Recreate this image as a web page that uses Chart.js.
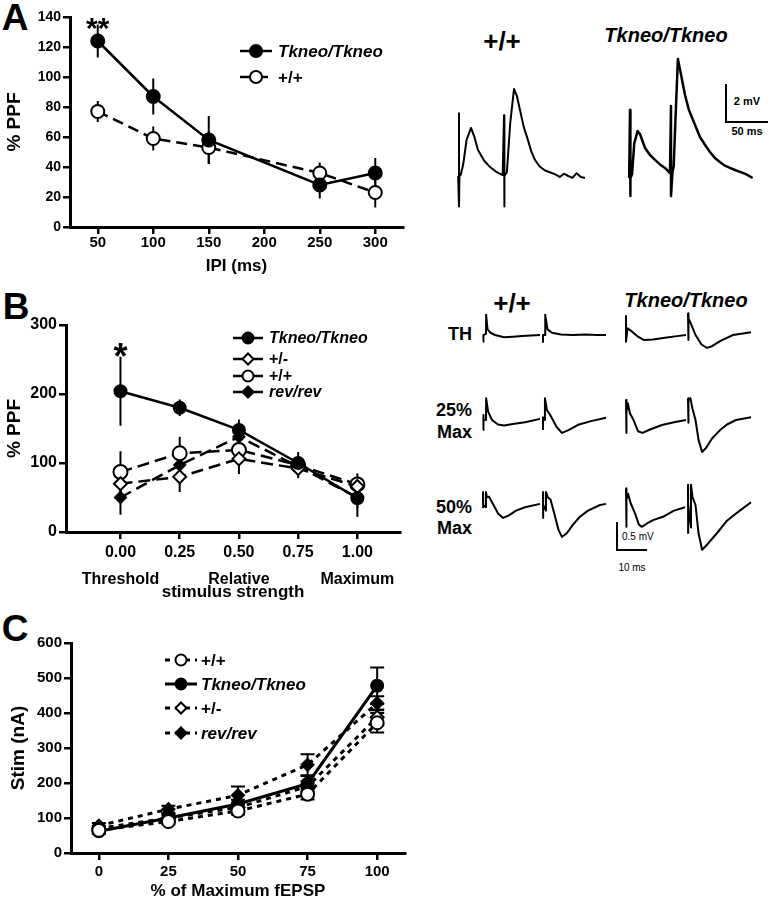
<!DOCTYPE html>
<html>
<head>
<meta charset="utf-8">
<script src="https://cdn.jsdelivr.net/npm/chart.js@4.4.1/dist/chart.umd.min.js"></script>
<style>
  html, body { margin: 0; padding: 0; background: #fff; }
  #page { position: relative; width: 769px; height: 900px; background: #fff; overflow: hidden; }
  canvas { position: absolute; }
  .lbl { position: absolute; font-family: 'Liberation Sans', Arial, sans-serif; font-weight: bold; line-height: 1; white-space: nowrap; color: #000; transform: translate(-50%, -50%); }
  .r { transform: translate(-100%, -50%); }
  .l { transform: translate(0, -50%); }
  .it { font-style: italic; }
  .nb { font-weight: normal; }
  .bar { position: absolute; border-left: 2px solid #000; border-bottom: 2px solid #000; box-sizing: border-box; }
</style>
</head>
<body>
<div id="page">
  <div class="lbl" style="left:15px;top:17px;font-size:37px;">A</div>
  <div class="lbl" style="left:16px;top:306px;font-size:37px;">B</div>
  <div class="lbl" style="left:15px;top:628px;font-size:37px;">C</div>

  <div class="lbl" style="left:502px;top:41px;font-size:26px;">+/+</div>
  <div class="lbl it" style="left:666px;top:35px;font-size:20px;">Tkneo/Tkneo</div>
  <div class="bar" style="left:725px;top:84px;width:43px;height:39px;"></div>
  <div class="lbl" style="left:747px;top:101px;font-size:11px;">2 mV</div>
  <div class="lbl" style="left:747px;top:131px;font-size:11px;">50 ms</div>

  <div class="lbl" style="left:512px;top:303px;font-size:26px;">+/+</div>
  <div class="lbl it" style="left:686px;top:300px;font-size:20px;">Tkneo/Tkneo</div>
  <div class="lbl r" style="left:472px;top:334px;font-size:18px;">TH</div>
  <div class="lbl r" style="left:472px;top:410px;font-size:18px;">25%</div>
  <div class="lbl r" style="left:472px;top:432px;font-size:18px;">Max</div>
  <div class="lbl r" style="left:472px;top:507px;font-size:18px;">50%</div>
  <div class="lbl r" style="left:472px;top:528px;font-size:18px;">Max</div>
  <div class="bar" style="left:616px;top:522px;width:31px;height:29px;"></div>
  <div class="lbl l nb" style="left:622px;top:537px;font-size:10px;">0.5 mV</div>
  <div class="lbl nb" style="left:632px;top:568px;font-size:10px;">10 ms</div>
</div>
<script>
// ---------------- DATA ----------------
// Panel A: paired-pulse facilitation vs inter-pulse interval
const ipiA = [50, 100, 150, 250, 300];
const ppfKoA = [124, 87, 58, 28, 36];
const ppfKoAErr = [11, 12, 16, 9, 10];
const ppfWtA = [77, 59, 53, 36, 23];
const ppfWtAErr = [7, 8, 11, 7, 10];
const ticksAx = [50, 100, 150, 200, 250, 300];
const ticksAy = [0, 20, 40, 60, 80, 100, 120, 140];

// Panel B: PPF vs relative stimulus strength
const stimB = [0, 0.25, 0.5, 0.75, 1.0];
const ppfKoB = [204, 180, 148, 100, 49];
const ppfKoBErr = [50, 12, 15, 16, 27];
const ppfHetB = [70, 80, 106, 92, 66];
const ppfHetBErr = [12, 22, 22, 14, 12];
const ppfWtB = [87, 114, 119, 97, 69];
const ppfWtBErr = [30, 24, 15, 14, 16];
const ppfRevB = [50, 97, 138, 95, 50];
const ppfRevBErr = [25, 10, 12, 12, 15];
const ticksBx = [0, 0.25, 0.5, 0.75, 1.0];
const tickLabelsBx = ['0.00', '0.25', '0.50', '0.75', '1.00'];
const subLabelsBx = ['Threshold', '', 'Relative', '', 'Maximum'];
const ticksBy = [0, 100, 200, 300];

// Panel C: stimulus current vs % of maximum fEPSP
const fepspC = [0, 25, 50, 75, 100];
const stimWtC = [65, 90, 120, 168, 372];
const stimWtCErr = [6, 8, 10, 15, 28];
const stimKoC = [62, 100, 140, 198, 478];
const stimKoCErr = [8, 10, 12, 22, 52];
const stimHetC = [70, 100, 130, 190, 388];
const stimHetCErr = [6, 10, 12, 15, 22];
const stimRevC = [78, 125, 165, 252, 428];
const stimRevCErr = [8, 10, 25, 30, 20];
const ticksCx = [0, 25, 50, 75, 100];
const ticksCy = [0, 100, 200, 300, 400, 500, 600];

// Panel A traces (time ms, voltage mV)
const trAwtT = [-1, 0, 0, 0.5, 2, 5, 9, 14.3, 18, 22.6, 30, 37, 45, 52, 53.6, 53.6, 54.5, 57, 61, 65.5, 69, 72.6, 77, 82, 86, 90.5, 96, 102, 108, 114, 120, 125, 130, 135, 140, 145, 150];
const trAwtV = [0, 3.3, -1.6, 0, 0.05, 0.6, 1.9, 2.53, 2.1, 1.37, 0.8, 0.47, 0.2, 0.05, 3.2, -1.6, 0, 0.2, 2.8, 4.58, 4.2, 3.47, 2.6, 1.9, 1.3, 0.84, 0.5, 0.3, 0.2, 0.1, -0.05, 0.12, 0.0, -0.1, 0.15, -0.05, -0.1];
const trAkoT = [-1, 0, 0, 1, 2.5, 5, 9, 12, 17.9, 24, 29.8, 36, 41.7, 47.6, 48.8, 48.8, 50.5, 52, 54.5, 57, 60, 65.5, 70, 75, 83.3, 90, 95.2, 101, 107, 113, 119, 125, 131, 138, 146];
const trAkoV = [0, 3.58, -0.95, 0, 0.2, 1.8, 2.47, 2.3, 1.58, 1.2, 0.95, 0.7, 0.53, 0.26, 3.79, -0.95, 0.3, 0.6, 3.5, 6.26, 5.6, 4.37, 3.6, 3.05, 2.16, 1.7, 1.37, 1.05, 0.84, 0.65, 0.53, 0.42, 0.32, 0.2, 0];

// Panel B traces (time ms, voltage mV)
const trThWt1T = [0, 0, 0.3, 1, 1.05, 1.5, 2.5, 4, 7, 10, 13, 16, 19];
const trThWt1V = [-0.12, 0, 0, 0.02, 0.36, 0.1, 0.04, 0, -0.04, -0.03, -0.02, -0.01, 0];
const trThWt2T = [0, 0, 0.7, 0.75, 1.5, 3, 6, 10, 14, 18, 21];
const trThWt2V = [-0.14, 0, 0, 0.36, 0.1, 0.04, 0.01, 0, 0.01, 0, 0];
const trThKo1T = [0, 0, 0.5, 2, 4, 6, 9, 13, 17, 20];
const trThKo1V = [0.34, -0.12, 0.12, 0.06, -0.03, -0.09, -0.08, -0.05, -0.02, 0];
const trThKo2T = [0, 0, 0.3, 1, 2.5, 4.5, 6.3, 8, 11, 15, 21];
const trThKo2V = [0.39, -0.09, 0.3, 0.2, 0, -0.17, -0.23, -0.2, -0.1, 0, 0.05];
const tr25Wt1T = [0, 0, 0.3, 1, 1.05, 1.7, 3, 5, 7, 10, 14, 19];
const tr25Wt1V = [-0.18, 0.09, 0, 0, 0.39, 0.15, 0, -0.08, -0.1, -0.07, -0.04, 0.02];
const tr25Wt2T = [0, 0, 0.6, 0.65, 1.3, 2.5, 4.5, 6.3, 8.5, 12, 16, 21];
const tr25Wt2V = [-0.18, 0.05, 0, 0.39, 0.18, 0.08, -0.12, -0.23, -0.18, -0.08, -0.02, 0.04];
const tr25Ko1T = [0, 0, 0.3, 0.6, 1.3, 2.5, 4, 5.5, 8, 12, 16, 20];
const tr25Ko1V = [0.36, -0.23, 0.15, 0.3, 0.12, 0, -0.2, -0.23, -0.17, -0.09, -0.04, 0];
const tr25Ko2T = [0, 0, 0.3, 0.8, 1.5, 2.5, 3.5, 4.7, 6, 8, 10.7, 13, 16, 21];
const tr25Ko2V = [0.39, -0.05, 0.35, 0.39, 0.2, 0, -0.35, -0.57, -0.5, -0.33, -0.18, -0.08, 0, 0.05];
const tr50Wt1T = [0, 0, 0.1, 1, 1, 1.3, 2, 3.5, 5, 6.7, 8.5, 11, 14, 19];
const tr50Wt1V = [0.23, -0.04, 0, -0.04, 0.23, 0.14, 0.15, 0, -0.15, -0.23, -0.19, -0.1, -0.04, 0.02];
const tr50Wt2T = [0, 0, 0.1, 1, 1, 1.6, 2.5, 4, 5.2, 6.3, 8, 10, 12.3, 15, 19, 21];
const tr50Wt2V = [0.23, -0.23, 0, -0.1, 0.23, 0.14, 0.1, -0.2, -0.45, -0.57, -0.5, -0.35, -0.21, -0.1, 0, 0.02];
const tr50Ko1T = [0, 0, 0.3, 0.7, 1.5, 3, 4.3, 5.3, 7, 9, 12.3, 16, 19.7];
const tr50Ko1V = [0.3, -0.39, 0.1, 0.2, 0.04, -0.15, -0.35, -0.39, -0.33, -0.27, -0.21, -0.1, -0.04];
const tr50Ko2T = [0, 0, 0.1, 1, 1, 1.5, 2.5, 3.5, 4.7, 6.5, 9.7, 13, 16.3, 21];
const tr50Ko2V = [0.36, -0.5, 0, -0.4, 0.36, 0.14, 0, -0.5, -0.8, -0.7, -0.5, -0.28, -0.14, 0.05];

// ---------------- HELPERS ----------------
const FONT = "'Liberation Sans', Arial, sans-serif";
const page = document.getElementById('page');
function makeCanvas(left, top, w, h) {
  const c = document.createElement('canvas');
  c.width = w; c.height = h;
  c.style.left = left + 'px'; c.style.top = top + 'px';
  c.style.width = w + 'px'; c.style.height = h + 'px';
  page.appendChild(c);
  return c;
}
const xy = (xs, ys) => xs.map((x, i) => ({ x: x, y: ys[i] }));

const errorBarPlugin = {
  id: 'errorBars',
  beforeDatasetsDraw(chart, args, opts) {
    const ctx = chart.ctx, ys = chart.scales.y;
    chart.data.datasets.forEach((ds, i) => {
      if (!ds.errors) return;
      const meta = chart.getDatasetMeta(i);
      ctx.save();
      ctx.strokeStyle = '#000';
      ctx.lineWidth = opts.width || 2;
      ctx.setLineDash([]);
      meta.data.forEach((pt, j) => {
        const v = ds.data[j].y, e = ds.errors[j];
        const yt = ys.getPixelForValue(v + e), yb = ys.getPixelForValue(v - e);
        ctx.beginPath();
        ctx.moveTo(pt.x, yt); ctx.lineTo(pt.x, yb);
        if (opts.cap) {
          ctx.moveTo(pt.x - opts.cap, yt); ctx.lineTo(pt.x + opts.cap, yt);
          ctx.moveTo(pt.x - opts.cap, yb); ctx.lineTo(pt.x + opts.cap, yb);
        }
        ctx.stroke();
      });
      ctx.restore();
    });
  }
};

const legendPlugin = {
  id: 'sketchLegend',
  afterDraw(chart, args, opts) {
    if (!opts || !opts.rows) return;
    const ctx = chart.ctx;
    chart.data.datasets.forEach((ds, i) => {
      const y = opts.rows[i];
      ctx.save();
      ctx.strokeStyle = '#000';
      ctx.lineWidth = ds.borderWidth;
      ctx.setLineDash(ds.borderDash || []);
      ctx.beginPath(); ctx.moveTo(opts.x0, y); ctx.lineTo(opts.x1, y); ctx.stroke();
      ctx.setLineDash([]);
      ctx.fillStyle = ds.pointBackgroundColor;
      ctx.strokeStyle = ds.pointBorderColor;
      ctx.lineWidth = ds.pointBorderWidth;
      Chart.helpers.drawPoint(ctx, { pointStyle: ds.pointStyle, radius: opts.radius, borderWidth: ds.pointBorderWidth, rotation: 0 }, (opts.x0 + opts.x1) / 2, y);
      ctx.fillStyle = '#000';
      ctx.font = (ds.italic ? 'italic ' : '') + 'bold ' + opts.fontSize + 'px ' + FONT;
      ctx.textBaseline = 'middle';
      ctx.textAlign = 'left';
      ctx.fillText(ds.label, opts.textX, y + 1);
      ctx.restore();
    });
  }
};

const starPlugin = {
  id: 'stars',
  afterDatasetsDraw(chart, args, opts) {
    if (!opts || !opts.items) return;
    const ctx = chart.ctx, ys = chart.scales.y;
    opts.items.forEach(it => {
      const ds = chart.data.datasets[it.dataset];
      const pt = chart.getDatasetMeta(it.dataset).data[it.index];
      const top = ys.getPixelForValue(ds.data[it.index].y + ds.errors[it.index]);
      ctx.save();
      ctx.fillStyle = '#000';
      ctx.font = 'bold ' + opts.fontSize + 'px ' + FONT;
      ctx.textAlign = 'center';
      ctx.textBaseline = 'alphabetic';
      ctx.fillText(it.text, pt.x, top + opts.dy);
      ctx.restore();
    });
  }
};
Chart.register(errorBarPlugin, legendPlugin, starPlugin);

function axis(o) {
  return {
    type: 'linear',
    min: o.min, max: o.max,
    afterBuildTicks: s => { s.ticks = o.ticks.map(v => ({ value: v })); },
    afterFit: s => { if (o.width) s.width = o.width; if (o.height) s.height = o.height; },
    border: { display: true, color: '#000', width: 3 },
    grid: { display: true, drawOnChartArea: false, drawTicks: true, tickLength: 7, color: '#000', lineWidth: 2.5 },
    ticks: {
      color: '#000', font: { family: FONT, size: o.fontSize, weight: 'bold', lineHeight: o.lineHeight || 1.2 },
      padding: o.pad, maxRotation: 0, autoSkip: false,
      callback: o.callback || (v => v)
    },
    title: {
      display: true, text: o.title, color: '#000',
      font: { family: FONT, size: o.titleSize, weight: 'bold', lineHeight: o.titleLH || 1.2 },
      padding: o.titlePad
    }
  };
}

function mainChart(canvas, datasets, scales, padding, pluginOpts) {
  return new Chart(canvas, {
    type: 'line',
    data: { datasets: datasets },
    options: {
      responsive: false, animation: false,
      layout: { padding: padding },
      plugins: Object.assign({ legend: { display: false }, tooltip: { enabled: false } }, pluginOpts),
      scales: scales
    }
  });
}

function series(label, xs, ys, errs, style) {
  return Object.assign({
    label: label, data: xy(xs, ys), errors: errs,
    borderColor: '#000', borderWidth: 2.5, tension: 0,
    pointBorderColor: '#000', pointBorderWidth: 2, pointHoverRadius: 0, clip: false
  }, style);
}

// ---------------- PANEL A ----------------
mainChart(makeCanvas(0, 0, 440, 285), [
  series('Tkneo/Tkneo', ipiA, ppfKoA, ppfKoAErr, { pointStyle: 'circle', pointRadius: 6.5, pointBackgroundColor: '#000', italic: true }),
  series('+/+', ipiA, ppfWtA, ppfWtAErr, { borderDash: [11, 6], pointStyle: 'circle', pointRadius: 6.5, pointBackgroundColor: '#fff' })
], {
  x: axis({ min: 25, max: 325, ticks: ticksAx, height: 58, fontSize: 15, pad: 0, title: 'IPI (ms)', titleSize: 17, titlePad: { top: 0, bottom: 8 } }),
  y: axis({ min: 0, max: 140, ticks: ticksAy, width: 70, fontSize: 14, pad: 2, title: '% PPF', titleSize: 19, titlePad: { top: 3, bottom: 0 } })
}, { top: 17, right: 37, left: 0, bottom: 0 }, {
  errorBars: { width: 2 },
  sketchLegend: { rows: [51, 77], x0: 240, x1: 272, textX: 278, radius: 6, fontSize: 17 },
  stars: { items: [{ dataset: 0, index: 0, text: '**' }], fontSize: 30, dy: 13 }
});

// ---------------- PANEL B ----------------
mainChart(makeCanvas(0, 285, 440, 320), [
  series('Tkneo/Tkneo', stimB, ppfKoB, ppfKoBErr, { pointStyle: 'circle', pointRadius: 6, pointBackgroundColor: '#000', italic: true }),
  series('+/-', stimB, ppfHetB, ppfHetBErr, { borderDash: [12, 6], pointStyle: 'rectRot', pointRadius: 6.5, pointBackgroundColor: '#fff' }),
  series('+/+', stimB, ppfWtB, ppfWtBErr, { borderDash: [12, 6], pointStyle: 'circle', pointRadius: 7, pointBackgroundColor: '#fff' }),
  series('rev/rev', stimB, ppfRevB, ppfRevBErr, { borderDash: [12, 6], pointStyle: 'rectRot', pointRadius: 5.5, pointBackgroundColor: '#000', italic: true })
], {
  x: axis({ min: -0.23, max: 1.18, ticks: ticksBx, height: 73, fontSize: 16, lineHeight: 1.69, pad: 0,
            callback: (v, i) => subLabelsBx[i] ? [tickLabelsBx[i], subLabelsBx[i]] : tickLabelsBx[i],
            title: 'stimulus strength', titleSize: 17, titlePad: { top: 0, bottom: 2 } }),
  y: axis({ min: 0, max: 300, ticks: ticksBy, width: 66, fontSize: 16, pad: 2, title: '% PPF', titleSize: 19, titlePad: { top: 3, bottom: 0 } })
}, { top: 40, right: 40, left: 0, bottom: 0 }, {
  errorBars: { width: 2 },
  sketchLegend: { rows: [53, 74, 91, 107], x0: 233, x1: 263, textX: 269, radius: 5.5, fontSize: 16 },
  stars: { items: [{ dataset: 0, index: 0, text: '*' }], fontSize: 36, dy: 12 }
});

// ---------------- PANEL C ----------------
mainChart(makeCanvas(0, 605, 440, 295), [
  series('+/+', fepspC, stimWtC, stimWtCErr, { borderDash: [5, 5], borderWidth: 3, pointStyle: 'circle', pointRadius: 6.5, pointBackgroundColor: '#fff' }),
  series('Tkneo/Tkneo', fepspC, stimKoC, stimKoCErr, { borderWidth: 3, pointStyle: 'circle', pointRadius: 6, pointBackgroundColor: '#000', italic: true }),
  series('+/-', fepspC, stimHetC, stimHetCErr, { borderDash: [5, 5], borderWidth: 3, pointStyle: 'rectRot', pointRadius: 6.5, pointBackgroundColor: '#fff' }),
  series('rev/rev', fepspC, stimRevC, stimRevCErr, { borderDash: [5, 5], borderWidth: 3, pointStyle: 'rectRot', pointRadius: 6, pointBackgroundColor: '#000', italic: true })
], {
  x: axis({ min: -10, max: 110, ticks: ticksCx, height: 47, fontSize: 15, pad: 3, title: '% of Maximum fEPSP', titleSize: 17, titleLH: 1.0, titlePad: { top: 0, bottom: 0 } }),
  y: axis({ min: 0, max: 600, ticks: ticksCy, width: 71, fontSize: 15, pad: 2, title: 'Stim (nA)', titleSize: 19, titlePad: { top: 7, bottom: 0 } })
}, { top: 38, right: 35, left: 0, bottom: 0 }, {
  errorBars: { width: 2, cap: 7 },
  sketchLegend: { rows: [55, 79, 103, 128], x0: 165, x1: 197, textX: 201, radius: 5.5, fontSize: 17 }
});

// ---------------- TRACES ----------------
function traceChart(canvas, t, v, xr, yr, lw) {
  return new Chart(canvas, {
    type: 'line',
    data: { datasets: [{ data: xy(t, v), borderColor: '#000', borderWidth: lw, pointRadius: 0, tension: 0, borderJoinStyle: 'round' }] },
    options: {
      responsive: false, animation: false,
      layout: { padding: 0 },
      plugins: { legend: { display: false }, tooltip: { enabled: false } },
      scales: {
        x: { type: 'linear', display: false, min: xr[0], max: xr[1] },
        y: { type: 'linear', display: false, min: yr[0], max: yr[1] }
      }
    }
  });
}
// Panel A traces: 0.84 px per ms, 19 px per mV
traceChart(makeCanvas(452, 50, 140, 170), trAwtT, trAwtV, [-7 / 0.84, 133 / 0.84], [-44 / 19, 126 / 19], 2);
traceChart(makeCanvas(622, 50, 140, 170), trAkoT, trAkoV, [-8 / 0.84, 132 / 0.84], [-42 / 19, 128 / 19], 2.5);

// Panel B traces: 3 px per ms, 56 px per mV
const bRows = [335, 420, 505];
const bCols = [483, 543, 626, 688];
const bTraces = [
  [[trThWt1T, trThWt1V], [trThWt2T, trThWt2V], [trThKo1T, trThKo1V], [trThKo2T, trThKo2V]],
  [[tr25Wt1T, tr25Wt1V], [tr25Wt2T, tr25Wt2V], [tr25Ko1T, tr25Ko1V], [tr25Ko2T, tr25Ko2V]],
  [[tr50Wt1T, tr50Wt1V], [tr50Wt2T, tr50Wt2V], [tr50Ko1T, tr50Ko1V], [tr50Ko2T, tr50Ko2V]]
];
bTraces.forEach((row, r) => row.forEach((tr, c) => {
  traceChart(makeCanvas(bCols[c] - 4, bRows[r] - 30, 72, 80), tr[0], tr[1], [-4 / 3, 68 / 3], [-50 / 56, 30 / 56], 2);
}));
</script>
</body>
</html>
